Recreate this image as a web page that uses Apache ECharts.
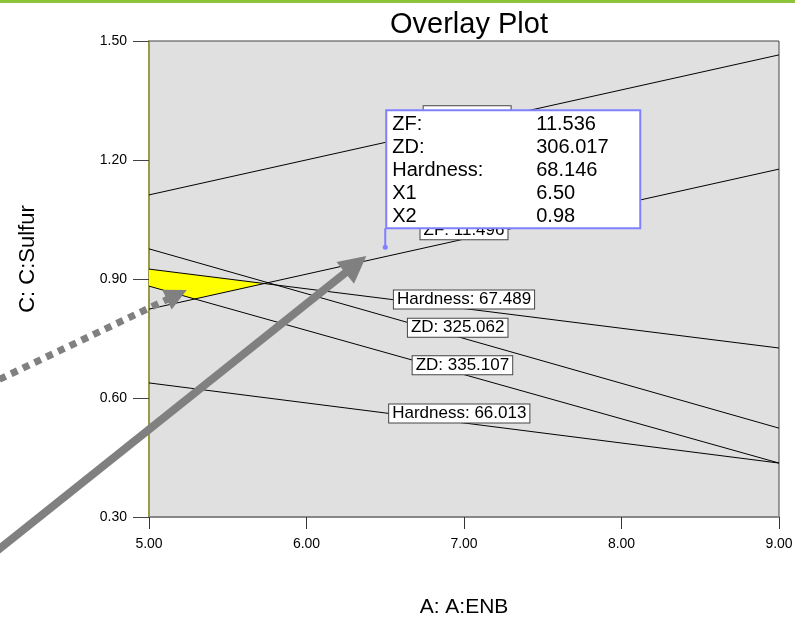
<!DOCTYPE html>
<html><head><meta charset="utf-8">
<script src="https://cdn.jsdelivr.net/npm/echarts@6.0.0/dist/echarts.min.js"></script>
<style>html,body{margin:0;padding:0;background:#fff}#c{width:795px;height:618px}</style>
</head><body><div id="c"></div>
<script>
// ---- data ----
const xTickValues = [5.00, 6.00, 7.00, 8.00, 9.00];
const yTickValues = [0.30, 0.60, 0.90, 1.20, 1.50];
const contourX = [5.00, 9.00];
const zfUpper = [1.112, 1.465];
const zfLower = [0.824, 1.177];
const hard67 = [0.925, 0.726];
const zd325 = [0.976, 0.524];
const zd335 = [0.882, 0.436];
const hard66 = [0.638, 0.436];
const contourNames = ['ZF: 11.576', 'ZF: 11.496', 'Hardness: 67.489', 'ZD: 325.062', 'ZD: 335.107', 'Hardness: 66.013'];
const contourLabelX = [7.02, 7.00, 7.00, 6.96, 6.99, 6.97];
const flagPoint = [6.50, 0.98];
const tipLabels = ['ZF:', 'ZD:', 'Hardness:', 'X1', 'X2'];
const tipValues = ['11.536', '306.017', '68.146', '6.50', '0.98'];
// annotation arrows (data coords): start, tip
const arrowSolid = [[4.02, 0.21], [6.38, 0.958]];
const arrowDotted = [[4.05, 0.647], [5.24, 0.872]];

const FONT = 'Liberation Sans, Arial, sans-serif';
const contours = [zfUpper, zfLower, hard67, zd325, zd335, hard66];

function yAt(line, x) { return line[0] + (line[1] - line[0]) * (x - contourX[0]) / (contourX[1] - contourX[0]); }
function intersect(a, b) {
  const span = contourX[1] - contourX[0];
  const t = (b[0] - a[0]) / ((a[1] - a[0]) - (b[1] - b[0]));
  const x = contourX[0] + span * t;
  return [x, yAt(a, x)];
}
const feasible = [
  [contourX[0], hard67[0]],
  intersect(hard67, zfLower),
  intersect(zd335, zfLower),
  [contourX[0], zd335[0]]
];

const chart = echarts.init(document.getElementById('c'));
const series = [{
  type: 'custom', z: 1, silent: true,
  data: [[contourX[0], hard67[0]]],
  renderItem: (params, api) => ({
    type: 'polygon',
    shape: { points: feasible.map(p => api.coord(p)) },
    style: { fill: '#FFFF00', stroke: null }
  })
}];
contours.forEach((line, i) => {
  const hidden = i === 0;
  series.push({
    type: 'line', z: 3, silent: true, symbol: 'none',
    data: contourX.map((x, k) => [x, line[k]]),
    lineStyle: { color: '#000', width: 1 },
    markPoint: {
      symbol: 'rect', symbolSize: 1, itemStyle: { color: 'rgba(0,0,0,0)' },
      data: [{ coord: [contourLabelX[i], yAt(line, contourLabelX[i])] }],
      label: {
        show: true, position: 'inside', offset: hidden ? [0, -6] : [0, -9], formatter: contourNames[i],
        backgroundColor: '#fff', borderColor: '#444', borderWidth: 1,
        padding: hidden ? [7, 3, 0, 3] : [1, 3, 0, 3],
        color: '#000', fontSize: 17, fontFamily: FONT, lineHeight: 17
      }
    }
  });
});

chart.setOption({
  animation: false,
  backgroundColor: '#fff',
  title: { text: 'Overlay Plot', left: 464, top: 5, textAlign: 'center',
    textStyle: { fontSize: 29, fontWeight: 'normal', color: '#000', fontFamily: FONT } },
  grid: { left: 149, top: 41, right: 16, bottom: 101, containLabel: false, outerBoundsMode: 'none',
    show: true, backgroundColor: '#E0E0E0', borderColor: '#444', borderWidth: 1 },
  xAxis: {
    type: 'value', min: 5, max: 9, interval: 1,
    name: 'A: A:ENB', nameLocation: 'middle', nameGap: 80,
    nameTextStyle: { fontSize: 21, color: '#000', fontFamily: FONT },
    axisLine: { show: true, lineStyle: { color: '#888', width: 2 } },
    axisTick: { show: true, length: 12, lineStyle: { color: '#333' } },
    axisLabel: { margin: 20, fontSize: 14, color: '#000', fontFamily: FONT, formatter: v => v.toFixed(2) },
    splitLine: { show: false }
  },
  yAxis: {
    type: 'value', min: 0.3, max: 1.5, interval: 0.3,
    name: 'C: C:Sulfur', nameLocation: 'middle', nameGap: 110, nameRotate: 90,
    nameTextStyle: { fontSize: 22, color: '#000', fontFamily: FONT, padding: [0, 0, 0, 40] },
    axisLine: { show: true, lineStyle: { color: '#9A9A40', width: 2 } },
    axisTick: { show: true, length: 16, lineStyle: { color: '#444' } },
    axisLabel: { margin: 22, fontSize: 14, color: '#000', fontFamily: FONT, formatter: v => v.toFixed(2) },
    splitLine: { show: false }
  },
  series: series
});

function px(p) { return chart.convertToPixel({ gridIndex: 0 }, p); }
function arrowGraphics(a, dashed) {
  const s = px(a[0]), t = px(a[1]);
  const dx = t[0] - s[0], dy = t[1] - s[1], L = Math.hypot(dx, dy);
  const ux = dx / L, uy = dy / L, nx = -uy, ny = ux;
  const headLen = dashed ? 22 : 27, headW = dashed ? 11 : 14, lw = dashed ? 7 : 8;
  const b = [t[0] - ux * headLen, t[1] - uy * headLen];
  return [
    { type: 'line', z: 90, shape: { x1: s[0], y1: s[1], x2: b[0] + ux * 2, y2: b[1] + uy * 2 },
      style: { stroke: '#808080', lineWidth: lw, lineDash: dashed ? [7, 6] : null, lineCap: 'butt' } },
    { type: 'polygon', z: 91, shape: { points: [t, [b[0] + nx * headW, b[1] + ny * headW], [b[0] - nx * headW, b[1] - ny * headW]] },
      style: { fill: '#808080' } }
  ];
}
const fp = px(flagPoint);
const bx = fp[0] + 1, by = fp[1] - 137, bw = 254, bh = 118;
const g = [
  { type: 'rect', z: 95, shape: { x: 0, y: 0, width: 795, height: 3 }, style: { fill: '#8CC43C' } },
  ...arrowGraphics(arrowSolid, false),
  ...arrowGraphics(arrowDotted, true),
  { type: 'line', z: 96, shape: { x1: fp[0], y1: fp[1], x2: fp[0], y2: by + bh }, style: { stroke: '#7F7FFF', lineWidth: 2 } },
  { type: 'circle', z: 96, shape: { cx: fp[0], cy: fp[1], r: 2.5 }, style: { fill: '#7F7FFF' } },
  { type: 'rect', z: 97, shape: { x: bx, y: by, width: bw, height: bh }, style: { fill: '#fff', stroke: '#8080FF', lineWidth: 2 } }
];
tipLabels.forEach((lab, i) => {
  const yy = by + 14 + i * 23;
  g.push({ type: 'text', z: 98, x: bx + 6, y: yy, style: { text: lab, fill: '#000', font: '20px ' + FONT, verticalAlign: 'middle' } });
  g.push({ type: 'text', z: 98, x: bx + 150, y: yy, style: { text: tipValues[i], fill: '#000', font: '20px ' + FONT, verticalAlign: 'middle' } });
});
chart.setOption({ graphic: g });
</script>
</body></html>
